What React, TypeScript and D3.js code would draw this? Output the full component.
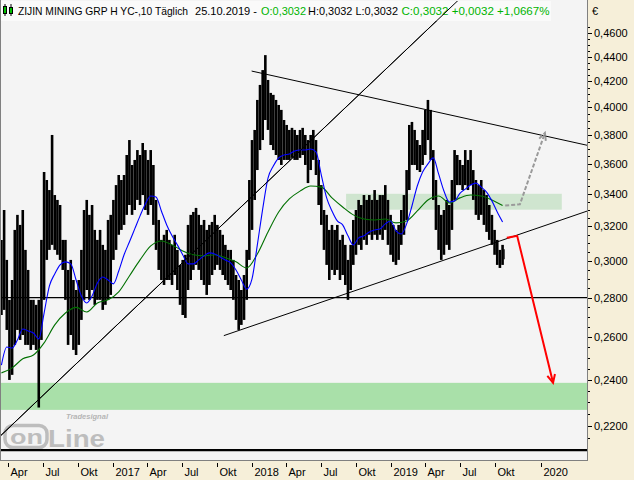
import React from "react";
import * as d3 from "d3";

// ---------- data ----------
const startWeek = "2016-03-14";
const weekHigh = [
  0.312, 0.33, 0.3005, 0.2788, 0.2894, 0.3179, 0.327, 0.3209, 0.33, 0.3062,
  0.2949, 0.2788, 0.2788, 0.2762, 0.2788, 0.312, 0.3544, 0.3491, 0.3426, 0.3799,
  0.3394, 0.3363, 0.3331, 0.312, 0.312, 0.2949, 0.3005, 0.2894, 0.284, 0.2894,
  0.3062, 0.33, 0.3363, 0.327, 0.3331, 0.3179, 0.312, 0.3179, 0.3091, 0.3062,
  0.3239, 0.327, 0.3363, 0.3458, 0.3524, 0.3491, 0.3524, 0.3659, 0.3763, 0.3591,
  0.3625, 0.3693, 0.3659, 0.3742, 0.3693, 0.3625, 0.3693, 0.3591, 0.3363, 0.3239,
  0.312, 0.315, 0.3179, 0.312, 0.3091, 0.315, 0.3062, 0.2977, 0.3005, 0.3034,
  0.3209, 0.327, 0.3288, 0.3313, 0.327, 0.3209, 0.3239, 0.3179, 0.3209, 0.3227,
  0.327, 0.3209, 0.3179, 0.315, 0.3091, 0.3062, 0.3062, 0.3005, 0.2921, 0.2894,
  0.284, 0.2921, 0.3062, 0.3491, 0.3763, 0.3835, 0.4057, 0.4173, 0.4291, 0.4413,
  0.4212, 0.4111, 0.4096, 0.4057, 0.4019, 0.3982, 0.3907, 0.3871, 0.3835, 0.385,
  0.3835, 0.3799, 0.3835, 0.385, 0.3799, 0.3763, 0.3799, 0.3835, 0.3763, 0.3625,
  0.3458, 0.33, 0.327, 0.3179, 0.3209, 0.3179, 0.3209, 0.312, 0.315, 0.3091,
  0.3005, 0.3091, 0.3239, 0.33, 0.3363, 0.3331, 0.3394, 0.3363, 0.3394, 0.3363,
  0.3426, 0.3363, 0.3394, 0.3394, 0.3458, 0.3363, 0.327, 0.3209, 0.3179, 0.3209,
  0.33, 0.3394, 0.3557, 0.3871, 0.3893, 0.3835, 0.3763, 0.3728, 0.3835, 0.3982,
  0.4057, 0.3982, 0.3693, 0.3491, 0.3331, 0.327, 0.33, 0.3363, 0.3331, 0.3491,
  0.3693, 0.3659, 0.3625, 0.3591, 0.3693, 0.3625, 0.3693, 0.3557, 0.3491, 0.3458,
  0.3491, 0.3426, 0.3394, 0.3331, 0.327, 0.3179, 0.312, 0.3062, 0.3091,
];
const weekLow = [
  0.271, 0.2736, 0.2635, 0.2399, 0.2422, 0.2562, 0.2635, 0.2586, 0.261, 0.2562,
  0.2562, 0.2538, 0.2562, 0.2538, 0.2278, 0.2586, 0.2788, 0.3005, 0.3062, 0.3091,
  0.3062, 0.3034, 0.3005, 0.2949, 0.2788, 0.2562, 0.261, 0.2538, 0.2514, 0.2562,
  0.2685, 0.2788, 0.284, 0.2788, 0.284, 0.2762, 0.2788, 0.2788, 0.2736, 0.2762,
  0.2788, 0.2814, 0.3005, 0.3062, 0.315, 0.3179, 0.3209, 0.327, 0.3331, 0.327,
  0.33, 0.3363, 0.3331, 0.3394, 0.33, 0.327, 0.3331, 0.3209, 0.3062, 0.2949,
  0.2894, 0.2867, 0.2894, 0.2894, 0.2867, 0.2921, 0.284, 0.2762, 0.271, 0.2695,
  0.284, 0.2894, 0.2949, 0.2977, 0.2949, 0.2894, 0.2867, 0.2814, 0.2867, 0.2921,
  0.2949, 0.2977, 0.2949, 0.2921, 0.2894, 0.2867, 0.284, 0.2788, 0.2685, 0.2635,
  0.266, 0.2685, 0.2788, 0.3005, 0.3179, 0.3363, 0.3557, 0.3693, 0.3763, 0.3907,
  0.3835, 0.3728, 0.3693, 0.3659, 0.3625, 0.3591, 0.3625, 0.3625, 0.3625, 0.3639,
  0.3625, 0.3625, 0.3639, 0.3659, 0.3591, 0.3471, 0.3557, 0.3625, 0.3524, 0.3331,
  0.3209, 0.3062, 0.2977, 0.2894, 0.2949, 0.2921, 0.2949, 0.2894, 0.2921, 0.2867,
  0.2788, 0.284, 0.2977, 0.3034, 0.3091, 0.3062, 0.312, 0.3091, 0.315, 0.312,
  0.315, 0.312, 0.315, 0.312, 0.3179, 0.3091, 0.3034, 0.2994, 0.2977, 0.3005,
  0.3091, 0.315, 0.3239, 0.3426, 0.3591, 0.3591, 0.3557, 0.3544, 0.3591, 0.3659,
  0.3763, 0.3625, 0.3363, 0.3179, 0.3062, 0.3005, 0.3034, 0.3091, 0.3062, 0.3179,
  0.3363, 0.3458, 0.3458, 0.3426, 0.3458, 0.3426, 0.3458, 0.3363, 0.327, 0.3239,
  0.327, 0.3209, 0.3167, 0.312, 0.3091, 0.3034, 0.2977, 0.296, 0.2977,
];
const lastBar = { date: "2019-10-25", price: 0.3032 };
// moving averages (blue every 2nd week, green every 4th week)
const blueMA = [
  0.2467, 0.2552, 0.2547, 0.2586, 0.264, 0.263, 0.262, 0.2591, 0.272, 0.2862,
  0.2927, 0.2977, 0.2994, 0.2983, 0.2894, 0.2808, 0.2772, 0.2808, 0.2878, 0.291,
  0.2894, 0.2873, 0.2943, 0.3034, 0.3108, 0.3185, 0.3264, 0.3338, 0.3388, 0.3382,
  0.3294, 0.3209, 0.3144, 0.3091, 0.3034, 0.2983, 0.2983, 0.3005, 0.3028, 0.3045,
  0.3039, 0.3022, 0.3005, 0.2988, 0.2949, 0.2894, 0.2845, 0.29, 0.3091, 0.3306,
  0.3504, 0.3584, 0.3639, 0.3659, 0.3666, 0.3687, 0.3693, 0.3693, 0.37, 0.368,
  0.3524, 0.3376, 0.3294, 0.3233, 0.3209, 0.3144, 0.3091, 0.3132, 0.3144, 0.3167,
  0.3179, 0.3185, 0.3215, 0.3233, 0.3173, 0.3155, 0.3215, 0.3325, 0.3452, 0.3544,
  0.3598, 0.3639, 0.3531, 0.342, 0.335, 0.3357, 0.3405, 0.3432, 0.3458, 0.3471,
  0.3445, 0.3413, 0.3357, 0.3288, 0.3227,
];
const greenMA = [
  0.2431, 0.2454, 0.2496, 0.2514, 0.2572, 0.266, 0.272, 0.2749, 0.2725, 0.2772,
  0.2788, 0.283, 0.2916, 0.3005, 0.3085, 0.3114, 0.3091, 0.3056, 0.3034, 0.3028,
  0.3034, 0.3017, 0.2994, 0.296, 0.3039, 0.3167, 0.3288, 0.3369, 0.3419, 0.3452,
  0.3445, 0.3376, 0.3319, 0.327, 0.3245, 0.3239, 0.3245, 0.3221, 0.3233, 0.3294,
  0.3363, 0.3388, 0.3344, 0.3376, 0.3394, 0.3388, 0.3363, 0.3328,
];
const yTickValues = [0.22, 0.24, 0.26, 0.28, 0.3, 0.32, 0.34, 0.36, 0.38, 0.4, 0.42, 0.44, 0.46];
const xTickDates = [
  "2016-04-01", "2016-07-01", "2016-10-01", "2017-01-01", "2017-04-01", "2017-07-01",
  "2017-10-01", "2018-01-01", "2018-04-01", "2018-07-01", "2018-10-01", "2019-01-01",
  "2019-04-01", "2019-07-01", "2019-10-01", "2020-01-01",
];
const xTickLabels = ["Apr", "Jul", "Okt", "2017", "Apr", "Jul", "Okt", "2018", "Apr", "Jul", "Okt", "2019", "Apr", "Jul", "Okt", "2020"];
const headerParts = [
  { text: "ZIJIN MINING GRP H YC-,10 Täglich", color: "#000000" },
  { text: "25.10.2019 -", color: "#000000" },
  { text: "O:0,3032", color: "#00b400" },
  { text: "H:0,3032 L:0,3032", color: "#000000" },
  { text: "C:0,3032 +0,0032 +1,0667%", color: "#00b400" },
];
const supportZone = [0.2268, 0.2386];
const resistanceZone = { from: "2018-09-05", to: "2020-02-08", low: 0.3302, high: 0.3402 };
const horizontalLevel = 0.28;
const baseLevel = 0.2103;
const trendLines: [string, number][][] = [
  [["2016-03-10", 0.2158], ["2019-06-30", 0.4903]],
  [["2017-12-31", 0.4283], ["2020-03-27", 0.3725]],
  [["2017-10-19", 0.2607], ["2020-03-27", 0.3295]],
];
const redArrow: [string, number][] = [["2019-10-30", 0.3132], ["2019-11-18", 0.3144], ["2020-01-23", 0.2386]];
const grayArrow: [string, number][] = [["2019-10-27", 0.3328], ["2019-11-23", 0.3335], ["2020-01-08", 0.3813]];

// layout (pixels) for header pieces: [x start, width]
const headerBoxes: [number, number][] = [
  [18, 170],
  [195, 62],
  [261, 45],
  [308, 90],
  [401.5, 148],
];

const BEIGE = "#f6efd9";
const PLOT_BG = "#f4f4f4";
const FONT = "'Liberation Sans', Arial, sans-serif";

function arrowHead(p: [number, number], q: [number, number], size: number) {
  const ang = Math.atan2(q[1] - p[1], q[0] - p[0]);
  const a1 = ang + Math.PI - 0.45;
  const a2 = ang + Math.PI + 0.45;
  return `M${q[0] + size * Math.cos(a1)},${q[1] + size * Math.sin(a1)}L${q[0]},${q[1]}L${q[0] + size * Math.cos(a2)},${q[1] + size * Math.sin(a2)}`;
}

export default function App() {
  const parse = d3.timeParse("%Y-%m-%d");
  const pr = { left: 0, top: 0, right: 588, bottom: 461 };

  const x = d3
    .scaleTime()
    .domain([parse("2016-04-01")!, parse("2019-10-25")!, parse("2020-01-01")!])
    .range([8.3, 504.1, 541.1]);
  const y = d3.scaleLog().domain([0.22, 0.46]).range([426.1, 33]);

  const start = parse(startWeek)!;
  const weekDate = (i: number) => d3.timeDay.offset(start, 7 * i);
  const bars = weekHigh.map((h, i) => ({ d: weekDate(i), h, l: weekLow[i] }));

  const lineGen = d3
    .line<{ d: Date; v: number }>()
    .x((p) => x(p.d))
    .y((p) => y(p.v))
    .curve(d3.curveMonotoneX);
  const blueData = blueMA.map((v, k) => ({ d: weekDate(2 * k), v }));
  const greenData = greenMA.map((v, k) => ({ d: weekDate(4 * k), v }));

  const pt = (a: [string, number]): [number, number] => [x(parse(a[0])!), y(a[1])];
  const redPts = redArrow.map(pt);
  const grayPts = grayArrow.map(pt);
  const poly = (ps: [number, number][]) => "M" + ps.map((p) => p.join(",")).join("L");

  const fmt = (v: number) => d3.format(".4f")(v).replace(".", ",");
  const minorTicks = d3.range(0.215, 0.4651, 0.005).filter(
    (v) => !yTickValues.some((t) => Math.abs(t - v) < 1e-6)
  );

  const steep = trendLines[0].map(pt);

  return (
    <svg
      width={634}
      height={480}
      style={{ position: "absolute", left: 0, top: 0 }}
      fontFamily={FONT}
    >
      <rect x={0} y={0} width={634} height={480} fill={BEIGE} />
      <rect x={pr.left} y={pr.top} width={pr.right - pr.left} height={pr.bottom - pr.top} fill={PLOT_BG} />
      <defs>
        <clipPath id="plotClip">
          <rect x={1} y={1} width={pr.right - 2} height={pr.bottom - 2} />
        </clipPath>
      </defs>

      <g clipPath="url(#plotClip)">
        {/* zones */}
        <rect
          x={pr.left}
          width={pr.right}
          y={y(supportZone[1])}
          height={y(supportZone[0]) - y(supportZone[1])}
          fill="#a9e0a9"
        />
        <rect
          x={x(parse(resistanceZone.from)!)}
          width={x(parse(resistanceZone.to)!) - x(parse(resistanceZone.from)!)}
          y={y(resistanceZone.high)}
          height={y(resistanceZone.low) - y(resistanceZone.high)}
          fill="#cfe5cf"
        />
        {/* logo (behind data) */}
        <g opacity={0.6}>
          <text x={66} y={419} fontSize={7.5} fontStyle="italic" fill="#8c8c8c" fontWeight="bold">
            Tradesignal
          </text>
          <rect x={5} y={425.5} width={42} height={22} rx={8} fill="none" stroke="#9a9a9a" strokeWidth={3.5} />
          <text x={10} y={444} fontSize={21} fontWeight="bold" fill="#9a9a9a" textLength={33} lengthAdjust="spacingAndGlyphs">
            on
          </text>
          <text x={48} y={447} fontSize={24} fontWeight="bold" fill="#9a9a9a" textLength={57} lengthAdjust="spacingAndGlyphs">
            Line
          </text>
        </g>
        {/* horizontal levels */}
        <line x1={pr.left} x2={pr.right} y1={y(horizontalLevel)} y2={y(horizontalLevel)} stroke="#000" strokeWidth={1.2} />
        <line x1={pr.left} x2={pr.right} y1={y(baseLevel)} y2={y(baseLevel)} stroke="#000" strokeWidth={2.2} />

        {/* price bars */}
        {bars.map((b, i) => (
          <line key={i} x1={x(b.d)} x2={x(b.d)} y1={y(b.h)} y2={y(b.l)} stroke="#000" strokeWidth={2.6} />
        ))}
        <line
          x1={x(parse(lastBar.date)!)}
          x2={x(parse(lastBar.date)!)}
          y1={y(lastBar.price) - 6}
          y2={y(lastBar.price) + 4}
          stroke="#000"
          strokeWidth={1.2}
        />

        {/* trend lines */}
        {trendLines.map((tl, i) => {
          const [p, q] = tl.map(pt);
          return <line key={i} x1={p[0]} y1={p[1]} x2={q[0]} y2={q[1]} stroke="#000" strokeWidth={1} />;
        })}

        {/* moving averages */}
        <path d={lineGen(greenData) || ""} fill="none" stroke="#007000" strokeWidth={1.1} />
        <path d={lineGen(blueData) || ""} fill="none" stroke="#0000ff" strokeWidth={1.1} />

        {/* scenario arrows */}
        <path d={poly(grayPts)} fill="none" stroke="#9a9a9a" strokeWidth={2} strokeDasharray="4,2" />
        <path
          d={arrowHead(grayPts[1], grayPts[2], 8)}
          fill="none"
          stroke="#9a9a9a"
          strokeWidth={2}
          strokeDasharray="4,2"
        />
        <path d={poly(redPts)} fill="none" stroke="#ff0000" strokeWidth={2} />
        <path d={arrowHead(redPts[1], redPts[2], 9)} fill="none" stroke="#ff0000" strokeWidth={2} />
      </g>

      {/* header */}
      <rect x={1} y={1} width={550} height={20} fill="#fafafa" />
      <g>
        <line x1={5} x2={5} y1={4} y2={16} stroke="#000" strokeWidth={1} />
        <rect x={3.5} y={6.5} width={3} height={7} fill="#00c000" stroke="#000" strokeWidth={1} />
        <line x1={11} x2={11} y1={4} y2={16} stroke="#000" strokeWidth={1} />
        <rect x={9.5} y={7.5} width={3} height={6} fill="#00c000" stroke="#000" strokeWidth={1} />
      </g>
      {headerParts.map((hp, i) => (
        <text
          key={i}
          x={headerBoxes[i][0]}
          y={15}
          fontSize={11}
          fill={hp.color}
          textLength={headerBoxes[i][1]}
          lengthAdjust="spacingAndGlyphs"
        >
          {hp.text}
        </text>
      ))}
      {/* steep trend line continues across the header */}
      <g clipPath="url(#plotClip)">
        <line x1={steep[0][0]} y1={steep[0][1]} x2={steep[1][0]} y2={steep[1][1]} stroke="#000" strokeWidth={1} />
      </g>

      {/* borders */}
      <line x1={0.5} x2={0.5} y1={0} y2={pr.bottom} stroke="#808080" />
      <line x1={pr.right - 0.5} x2={pr.right - 0.5} y1={0} y2={pr.bottom} stroke="#808080" />
      <line x1={0} x2={pr.right} y1={pr.bottom - 0.5} y2={pr.bottom - 0.5} stroke="#808080" />

      {/* y axis */}
      <text x={592} y={15} fontSize={11} fill="#000">€</text>
      {minorTicks.map((v, i) => (
        <line key={"m" + i} x1={588} x2={590} y1={Math.round(y(v)) + 0.5} y2={Math.round(y(v)) + 0.5} stroke="#000" />
      ))}
      {yTickValues.map((v) => (
        <g key={v}>
          <line x1={588} x2={592} y1={Math.round(y(v)) + 0.5} y2={Math.round(y(v)) + 0.5} stroke="#000" />
          <text x={594} y={y(v) + 4} fontSize={11} fill="#000">
            {fmt(v)}
          </text>
        </g>
      ))}

      {/* x axis */}
      {xTickDates.map((ds, i) => {
        const xv = Math.round(x(parse(ds)!)) + 0.5;
        return (
          <g key={ds}>
            <line x1={xv} x2={xv} y1={463} y2={467} stroke="#000" />
            <text x={xv + 2} y={476} fontSize={11} fill="#000">
              {xTickLabels[i]}
            </text>
          </g>
        );
      })}
    </svg>
  );
}
